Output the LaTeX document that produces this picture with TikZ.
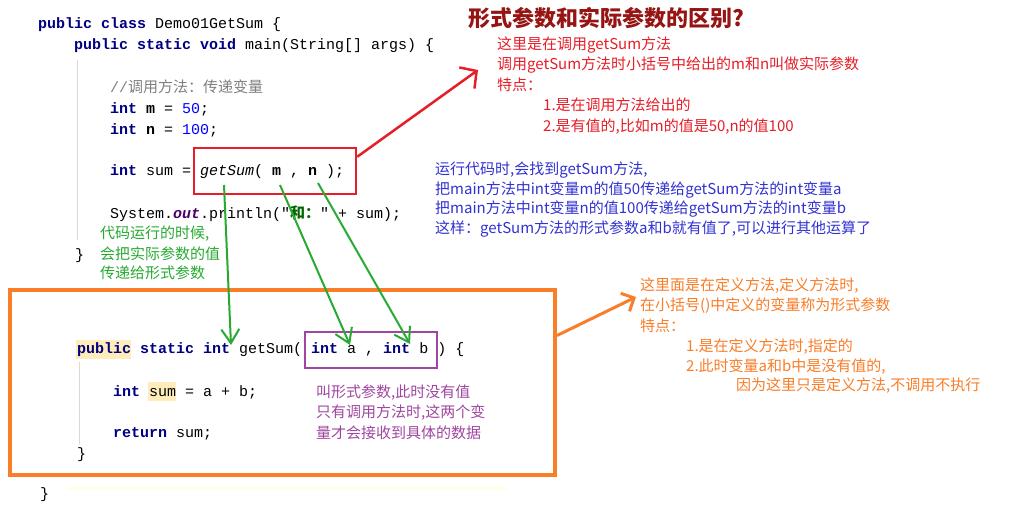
\documentclass[tikz,border=0pt]{standalone}
\usetikzlibrary{arrows.meta}
\usepackage{fontspec}
\setmonofont{Liberation Mono}
\newfontfamily\cjk{Noto Sans CJK SC}
\begin{document}
\begin{tikzpicture}[x=1pt,y=-1pt,
 code/.style={anchor=west,inner sep=0,font=\ttfamily\fontsize{15}{15}\selectfont},
 note/.style={anchor=west,inner sep=0,font=\cjk\fontsize{15}{15}\selectfont},
 garrow/.style={gr,line width=2pt,-{Straight Barb[length=14pt,width=18pt]}}]
\definecolor{kw}{RGB}{0,0,128}
\definecolor{nb}{RGB}{0,0,255}
\definecolor{cm}{RGB}{128,128,128}
\definecolor{rd}{RGB}{230,30,40}
\definecolor{dr}{RGB}{150,20,20}
\definecolor{bl}{RGB}{50,50,210}
\definecolor{gr}{RGB}{40,170,50}
\definecolor{og}{RGB}{250,125,40}
\definecolor{pu}{RGB}{160,70,160}
\useasboundingbox (0,0) rectangle (1018,506);
\fill[white] (0,0) rectangle (1018,506);
\newcommand{\K}[1]{\textbf{\color{kw}#1}}
\node[code] (l1) at (38,25) {\K{public class} Demo01GetSum \{};
\node[code] (l2) at (74,46) {\K{public static void} main(String[] args) \{};
\node[code] (l3) at (110,87) {\color{cm}//{\cjk 调用方法：传递变量}};
\node[code] (l4) at (110,109) {\K{int} \textbf{m} = {\color{nb}50};};
\node[code] (l5) at (110,130) {\K{int} \textbf{n} = {\color{nb}100};};
\node[code] (l6) at (110,172) {\K{int} sum = \textit{getSum}( \textbf{m} , \textbf{n} );};
\node[code] (l7) at (110,214) {System.\textbf{\textit{\color{kw!60!purple}out}}.println("{\cjk\color{green!40!black}\textbf{和：}}" + sum);};
\node[code] (l8) at (75,256) {\}};
\draw[cm!30,line width=.8pt] (77,60) -- (77,240);
% red box and arrow
\node[draw=rd,line width=2.5pt,minimum width=162pt,minimum height=46pt,inner sep=0] (rbox) at (275,171) {};
\coordinate (rt) at (478,70);
\draw[rd,line width=2.5pt,-{Straight Barb[length=12pt,width=26pt]}] (rbox.north east) ++(0,10) -- (rt);
\node[anchor=west,inner sep=0,font=\cjk\fontsize{22}{22}\selectfont\bfseries,text=dr] (title) at (468,18) {形式参数和实际参数的区别?};
\node[note,text=rd] (r1) at (497,45) {这里是在调用getSum方法};
\node[note,text=rd] (r2) at (497,65) {调用getSum方法时小括号中给出的m和n叫做实际参数};
\node[note,text=rd] (r3) at (497,85) {特点：};
\node[note,text=rd] (r4) at (543,105) {1.是在调用方法给出的};
\node[note,text=rd] (r5) at (543,127) {2.是有值的,比如m的值是50,n的值100};
\node[note,text=bl] (b1) at (435,170) {运行代码时,会找到getSum方法,};
\node[note,text=bl] (b2) at (435,190) {把main方法中int变量m的值50传递给getSum方法的int变量a};
\node[note,text=bl] (b3) at (435,209) {把main方法中int变量n的值100传递给getSum方法的int变量b};
\node[note,text=bl] (b4) at (435,229) {这样：getSum方法的形式参数a和b就有值了,可以进行其他运算了};
\node[note,text=gr] (g1) at (100,234) {代码运行的时候,};
\node[note,text=gr] (g2) at (100,254) {会把实际参数的值};
\node[note,text=gr] (g3) at (100,273) {传递给形式参数};
% orange box
\node[draw=og,line width=4pt,minimum width=545pt,minimum height=185pt,inner sep=0] (obox) at (282.5,382.5) {};
\coordinate (ot) at (636,297);
\draw[og,line width=3pt,-{Straight Barb[length=10pt,width=20pt]}] (obox.east) ++(0,-47) -- (ot);
\node[note,text=og] (o1) at (640,286) {这里面是在定义方法,定义方法时,};
\node[note,text=og] (o2) at (640,306) {在小括号()中定义的变量称为形式参数};
\node[note,text=og] (o3) at (640,326) {特点：};
\node[note,text=og] (o4) at (686,347) {1.是在定义方法时,指定的};
\node[note,text=og] (o5) at (686,367) {2.此时变量a和b中是没有值的,};
\node[note,text=og] (o6) at (736,386) {因为这里只是定义方法,不调用不执行};
% lower code
\fill[yellow!50!orange!25] (76,340) rectangle (131,359);
\fill[yellow!50!orange!25] (148,382) rectangle (176,401);
\node[code] (m1) at (77,350) {\K{public static int} getSum( \K{int} a , \K{int} b ) \{};
\node[code] (m2) at (113,392) {\K{int} sum = a + b;};
\node[code] (m3) at (113,434) {\K{return} sum;};
\node[code] (m4) at (77,455) {\}};
\node[code] (m5) at (40,495) {\}};
\draw[cm!30,line width=.8pt] (79,362) -- (79,444);
\fill[yellow!10] (67,487) rectangle (508,490);
\node[draw=pu,line width=2pt,minimum width=132pt,minimum height=36pt,inner sep=0] (pbox) at (371,350) {};
\node[note,text=pu] (p1) at (316,393) {叫形式参数,此时没有值};
\node[note,text=pu] (p2) at (316,413) {只有调用方法时,这两个变};
\node[note,text=pu] (p3) at (316,433) {量才会接收到具体的数据};
% green arrows
\coordinate (gs1) at (224,185); \coordinate (ge1) at (231,345);
\coordinate (gs2) at (280,185); \coordinate (ge2) at (350,345);
\coordinate (gs3) at (318,183); \coordinate (ge3) at (410,344);
\draw[garrow] (gs1) -- (ge1);
\draw[garrow] (gs2) -- (ge2);
\draw[garrow] (gs3) -- (ge3);
\end{tikzpicture}
\end{document}
